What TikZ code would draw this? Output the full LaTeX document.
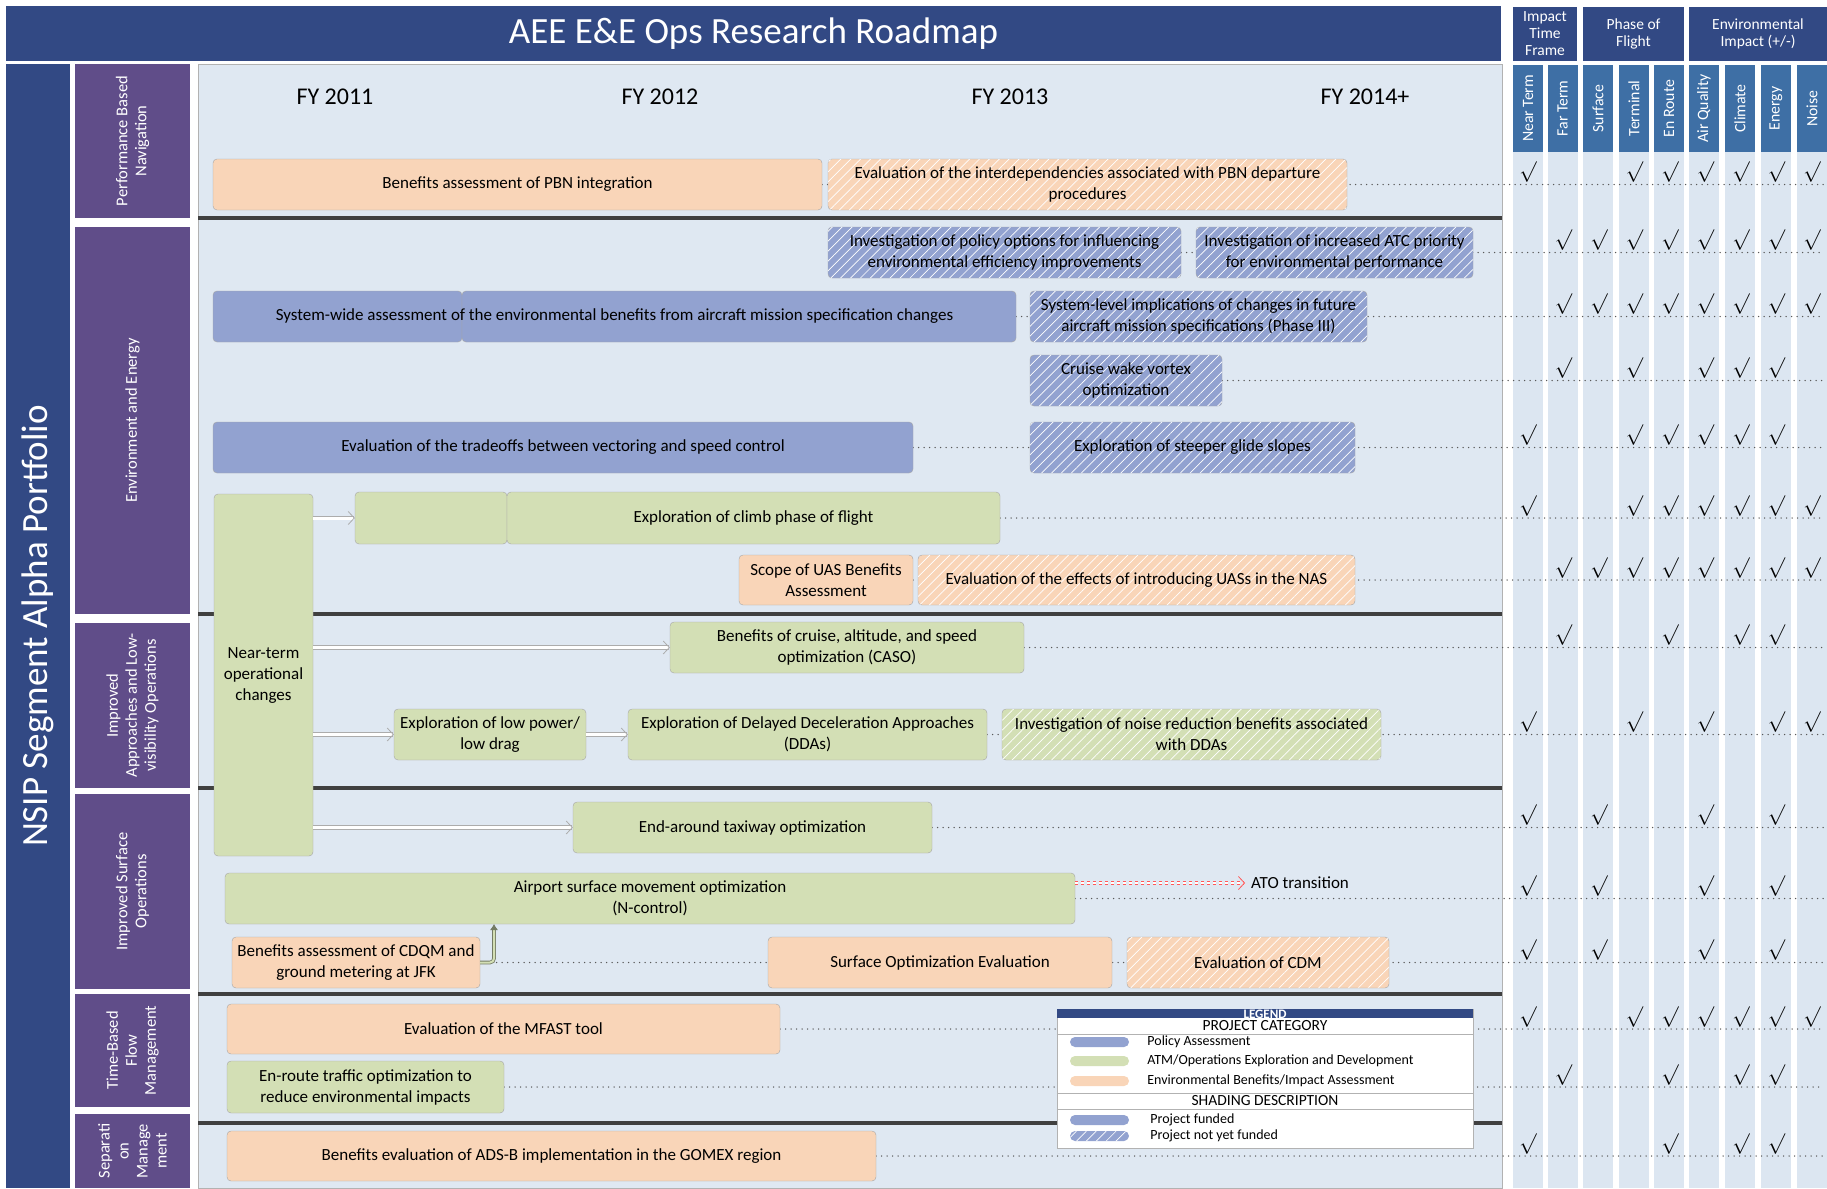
\documentclass[tikz,border=0pt]{standalone}
\usepackage{fontspec}
\setmainfont{Carlito}
\usetikzlibrary{arrows.meta,patterns.meta,positioning}
\definecolor{titleblue}{RGB}{50,73,132}
\definecolor{catpurple}{RGB}{96,77,137}
\definecolor{colblue}{RGB}{62,111,165}
\definecolor{areabg}{RGB}{223,232,242}
\definecolor{stripbg}{RGB}{220,230,241}
\definecolor{peach}{RGB}{249,213,184}
\definecolor{sage}{RGB}{211,223,181}
\definecolor{lavender}{RGB}{146,162,208}
\definecolor{rule}{RGB}{64,64,64}
\pgfdeclarelayer{back}
\pgfdeclarelayer{dots}
\pgfsetlayers{back,dots,main}

\begin{document}
\begin{tikzpicture}[x=1pt, y=-1pt, >=Stealth,
   banner/.style={fill=titleblue, text=white, inner sep=0pt},
   grouphead/.style={fill=titleblue, text=white, align=center, inner sep=0pt, minimum height=54pt, font=\fontsize{15.5}{17}\selectfont},
   colhead/.style={fill=colblue, text=white, rotate=90, inner sep=0pt, minimum width=87pt, minimum height=30pt, font=\fontsize{15.8}{15.8}\selectfont},
   cat/.style={fill=catpurple, text=white, rotate=90, align=center, inner sep=0pt, minimum height=115pt, font=\fontsize{16.5}{19}\selectfont},
   task/.style={draw=gray!70, rounded corners=4pt, align=center, inner sep=0pt, font=\fontsize{17}{21}\selectfont},
   policy/.style={fill=lavender},
   atm/.style={fill=sage},
   impact/.style={fill=peach},
   unfunded/.style={postaction={pattern={Lines[angle=45,distance=7pt,line width=0.7pt]}, pattern color=white, fill opacity=0.45}},
   row/.style={draw=gray!70!black, line width=1.5pt, line cap=round, dash pattern=on 0pt off 5.5pt},
   sep/.style={draw=rule, line width=4pt},
   hollow/.style={draw=gray!65, double=white, double distance=3pt, line width=0.7pt, -{Straight Barb[length=6pt,width=13pt,line width=0.8pt]}},
   handover/.style={draw=red!65, dashed, double=white, double distance=2.5pt, line width=0.6pt, -{Straight Barb[length=6pt,width=13pt,line width=0.8pt]}},
   lift/.style={draw=sage!55!black, double=sage, double distance=2pt, line width=0.8pt, rounded corners=4pt, -{Latex[length=6pt,width=8pt]}},
   fy/.style={font=\fontsize{24}{24}\selectfont},
   tick/.style={anchor=south, inner sep=0pt, font=\fontsize{21}{21}\selectfont},
   swatch/.style={rounded corners=5pt, minimum width=59pt, minimum height=10pt, inner sep=0pt},
   legtext/.style={anchor=west, inner sep=0pt, font=\fontsize{14}{14}\selectfont},
   leghead/.style={inner xsep=0pt, inner ysep=3pt, font=\fontsize{15.5}{15.5}\selectfont}]
   \useasboundingbox (0,0) rectangle (1827,1188);
   \coordinate (edge) at (1824,0);

   \begin{pgfonlayer}{back}
   \fill[white] (0,0) rectangle (1827,1188);
   \filldraw[fill=areabg, draw=gray!60] (198,64) rectangle (1502,1188);
   \foreach \x in {1528,1562.5,1598,1634,1669,1704,1740,1776,1812}
      \fill[stripbg] (\x-15,152) rectangle (\x+15,1188);
   \foreach \y in {218,614,788,994,1123}
      \draw[sep] (198,\y) -- (1502,\y);
   \end{pgfonlayer}

   \node (title) at (753.5,33.5) [banner, minimum width=1495pt, minimum height=55pt, font=\fontsize{37}{37}\selectfont] {AEE E\&E Ops Research Roadmap};
   \node (portfolio) at (38,626) [banner, rotate=90, minimum width=1124pt, minimum height=64pt, font=\fontsize{37}{37}\selectfont] {NSIP Segment Alpha Portfolio};

   \node (timeframe) at (1545,34) [grouphead, minimum width=64pt] {Impact\\Time\\Frame};
   \node (phase) at (1633.5,34) [grouphead, minimum width=101pt] {Phase of\\Flight};
   \node (envimpact) at (1758,34) [grouphead, minimum width=138pt] {Environmental\\Impact (+/-)};
   \foreach \n/\x/\lab in {c1/1528/Near Term, c2/1562.5/Far Term, c3/1598/Surface, c4/1634/Terminal, c5/1669/En Route, c6/1704/Air Quality, c7/1740/Climate, c8/1776/Energy, c9/1812/Noise}
      \node (\n) at (\x,108.5) [colhead] {\lab};

   \node (pbn) at (132.5,141) [cat, minimum width=154pt] {Performance Based\\Navigation};
   \node (ee) at (132.5,420.5) [cat, minimum width=387pt] {Environment and Energy};
   \node (ia) at (132.5,705.5) [cat, minimum width=165pt] {Improved\\Approaches and Low-\\visibility Operations};
   \node (is) at (132.5,891.5) [cat, minimum width=195pt] {Improved Surface\\Operations};
   \node (tb) at (132.5,1050.5) [cat, minimum width=113pt] {Time-Based\\Flow\\Management};
   \node (sm) at (132.5,1151) [cat, minimum width=74pt] {Separati\\on\\Manage\\ment};

   \node (fy11) at (335,97) [fy] {FY 2011};
   \node (fy12) at (660,97) [fy] {FY 2012};
   \node (fy13) at (1010,97) [fy] {FY 2013};
   \node (fy14) at (1365,97) [fy] {FY 2014+};

   \node (pbn1) at (517.5,184.5) [task, impact, minimum width=609pt, minimum height=51pt] {Benefits assessment of PBN integration};
   \node (pbn2) at (1087.5,184.5) [task, impact, unfunded, minimum width=519pt, minimum height=51pt] {Evaluation of the interdependencies associated with PBN departure\\procedures};
   \node (policy) at (1004.5,252.5) [task, policy, unfunded, minimum width=353pt, minimum height=51pt] {Investigation of policy options for influencing\\environmental efficiency improvements};
   \node (atc) at (1334.5,252.5) [task, policy, unfunded, minimum width=277pt, minimum height=51pt] {Investigation of increased ATC priority\\for environmental performance};
   \node (sw1) at (337.5,316.5) [task, policy, minimum width=249pt, minimum height=51pt] {};
   \node (sw2) at (739,316.5) [task, policy, minimum width=554pt, minimum height=51pt] {};
   \node (swtext) at (614.5,316.5) [task, draw=none] {System-wide assessment of the environmental benefits from aircraft mission specification changes};
   \node (syslevel) at (1198.5,316.5) [task, policy, unfunded, minimum width=337pt, minimum height=51pt] {System-level implications of changes in future\\aircraft mission specifications (Phase III)};
   \node (cruise) at (1126,380.5) [task, policy, unfunded, minimum width=192pt, minimum height=51pt] {Cruise wake vortex\\optimization};
   \node (tradeoffs) at (563,447.5) [task, policy, minimum width=700pt, minimum height=51pt] {Evaluation of the tradeoffs between vectoring and speed control};
   \node (glide) at (1192.5,447.5) [task, policy, unfunded, minimum width=325pt, minimum height=51pt] {Exploration of steeper glide slopes};
   \node (near) at (263.5,675) [task, atm, minimum width=99pt, minimum height=362pt] {Near-term\\operational\\changes};
   \node (climb1) at (431,518) [task, atm, minimum width=152pt, minimum height=52pt] {};
   \node (climb2) at (753.5,518) [task, atm, minimum width=493pt, minimum height=52pt] {Exploration of climb phase of flight};
   \node (scope) at (826,580) [task, impact, minimum width=174pt, minimum height=50pt] {Scope of UAS Benefits\\Assessment};
   \node (uas) at (1136.5,580) [task, impact, unfunded, minimum width=437pt, minimum height=50pt] {Evaluation of the effects of introducing UASs in the NAS};
   \node (caso) at (847,647.5) [task, atm, minimum width=354pt, minimum height=51pt] {Benefits of cruise, altitude, and speed\\optimization (CASO)};
   \node (lowpower) at (490,734.5) [task, atm, minimum width=192pt, minimum height=51pt] {Exploration of low power/\\low drag};
   \node (dda) at (807.5,734.5) [task, atm, minimum width=359pt, minimum height=51pt] {Exploration of Delayed Deceleration Approaches\\(DDAs)};
   \node (noise) at (1191.5,734.5) [task, atm, unfunded, minimum width=379pt, minimum height=51pt] {Investigation of noise reduction benefits associated\\with DDAs};
   \node (taxi) at (752.5,827.5) [task, atm, minimum width=359pt, minimum height=51pt] {End-around taxiway optimization};
   \node (airport) at (650,898.5) [task, atm, minimum width=850pt, minimum height=51pt] {Airport surface movement optimization\\(N-control)};
   \node (cdqm) at (356,962.5) [task, impact, minimum width=248pt, minimum height=51pt] {Benefits assessment of CDQM and\\ground metering at JFK};
   \node (surfopt) at (940,962.5) [task, impact, minimum width=344pt, minimum height=51pt] {Surface Optimization Evaluation};
   \node (cdm) at (1258,962.5) [task, impact, unfunded, minimum width=262pt, minimum height=51pt] {Evaluation of CDM};
   \node (mfast) at (503.5,1029) [task, impact, minimum width=553pt, minimum height=50pt] {Evaluation of the MFAST tool};
   \node (enroute) at (365.5,1087) [task, atm, minimum width=277pt, minimum height=52pt] {En-route traffic optimization to\\reduce environmental impacts};
   \node (adsb) at (551.5,1156) [task, impact, minimum width=649pt, minimum height=50pt] {Benefits evaluation of ADS-B implementation in the GOMEX region};
   \node (ato) at (1251,883) [anchor=west, inner sep=0pt, font=\fontsize{17}{17}\selectfont] {ATO transition};
   \coordinate (liftend) at (494,924);

   \begin{pgfonlayer}{dots}
   \foreach \n in {pbn1,policy,sw2,cruise,tradeoffs,climb2,scope,caso,dda,taxi,airport,cdqm,mfast,enroute,adsb}
      \draw[row] (\n.east) -- (\n.east -| edge);
   \end{pgfonlayer}

   \draw[hollow] (near.east |- climb1.west) -- (climb1.west);
   \draw[hollow] (near.east |- caso.west) -- (caso.west);
   \draw[hollow] (near.east |- lowpower.west) -- (lowpower.west);
   \draw[hollow] (lowpower) -- (dda);
   \draw[hollow] (near.east |- taxi.west) -- (taxi.west);
   \draw[handover] (airport.east |- ato.west) -- ([xshift=-6pt]ato.west);
   \draw[lift] (cdqm.east) -| (liftend);

   \foreach \y/\cs in {184/{1,4,5,6,7,8,9}, 252/{2,3,4,5,6,7,8,9}, 316/{2,3,4,5,6,7,8,9}, 380/{2,4,6,7,8}, 447/{1,4,5,6,7,8}, 518/{1,4,5,6,7,8,9}, 580/{2,3,4,5,6,7,8,9}, 647/{2,5,7,8}, 734/{1,4,6,8,9}, 827/{1,3,6,8}, 898/{1,3,6,8}, 962/{1,3,6,8}, 1029/{1,4,5,6,7,8,9}, 1087/{2,5,7,8}, 1156/{1,5,7,8}}
      \foreach \c in \cs
         \node[tick] at ({1492.5+35.5*\c},\y-1) {$\surd$};

   \node (legend) at (1265,1078.5) [draw=gray!60, fill=white, minimum width=416pt, minimum height=139pt, inner sep=0pt] {};
   \node (legbar) at (legend.north) [anchor=north, fill=titleblue, minimum width=416pt, minimum height=9pt, inner sep=0pt] {};
   \node (legword) at (1265,1014) [inner sep=0pt, text=white, font=\bfseries\fontsize{13}{13}\selectfont] {LEGEND};
   \node (cathead) at (1265,1026) [leghead] {PROJECT CATEGORY};
   \draw[gray!60] (legend.west |- cathead.south) -- (legend.east |- cathead.south);
   \node (shadehead) at (1265,1101) [leghead] {SHADING DESCRIPTION};
   \draw[gray!60] (legend.west |- shadehead.north) -- (legend.east |- shadehead.north);
   \draw[gray!60] (legend.west |- shadehead.south) -- (legend.east |- shadehead.south);
   \node (spol) at (1099.5,1042) [swatch, fill=lavender] {};
   \node (satm) at (1099.5,1061) [swatch, fill=sage] {};
   \node (simp) at (1099.5,1081) [swatch, fill=peach] {};
   \node (sfund) at (1099.5,1120) [swatch, fill=lavender] {};
   \node (sunf) at (1099.5,1136) [swatch, fill=lavender, unfunded] {};
   \node (lpol) [legtext, right=18pt of spol] {Policy Assessment};
   \node (latm) [legtext, right=18pt of satm] {ATM/Operations Exploration and Development};
   \node (limp) [legtext, right=18pt of simp] {Environmental Benefits/Impact Assessment};
   \node (lfund) [legtext, right=21pt of sfund] {Project funded};
   \node (lunf) [legtext, right=21pt of sunf] {Project not yet funded};
\end{tikzpicture}
\end{document}
